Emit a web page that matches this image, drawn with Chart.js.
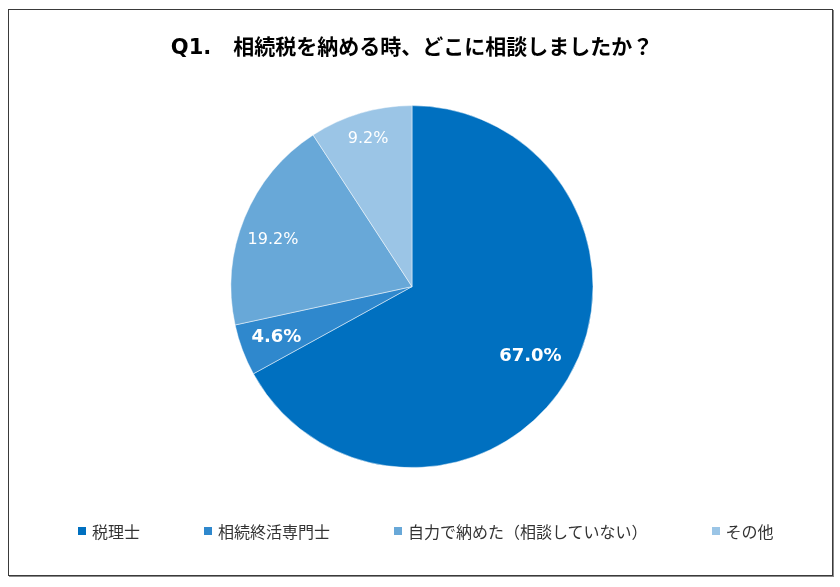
<!DOCTYPE html>
<html lang="ja">
<head>
<meta charset="utf-8">
<script src="https://cdn.jsdelivr.net/npm/chart.js@4.4.1/dist/chart.umd.min.js"></script>
<style>
  html, body { margin:0; padding:0; background:#fff; }
  body { width:840px; height:587px; position:relative; overflow:hidden; }
  .frame {
    position:absolute; left:8px; top:9px; width:825px; height:567px;
    box-sizing:border-box; border:1px solid #3a3a3a; box-shadow:1px 1px 0 #8a8a8a;
  }
  .frame canvas { position:absolute; left:0; top:0; }
  .legenda {
    position:absolute; left:78px; top:521px; height:20px;
    display:flex; align-items:center; gap:64px;
    font-family:"Noto Sans CJK JP", sans-serif; font-size:16px; color:#333;
  }
  .legenda-item { display:flex; align-items:center; white-space:nowrap; }
  .legenda-cor { width:8px; height:8px; margin-right:6px; display:inline-block; }
</style>
</head>
<body>
<div class="frame">
  <canvas id="grafico"></canvas>
</div>
<div class="legenda" id="legenda"></div>

<script>
// ─── DADOS ───────────────────────────────────────────────────────────────────
const titulo     = "Q1.   相続税を納める時、どこに相談しましたか？";
const categorias = ["税理士", "相続終活専門士", "自力で納めた（相談していない）", "その他"];
const valores    = [67.0, 4.6, 19.2, 9.2];
const cores      = ["#0070C0", "#2F88CD", "#68A8D8", "#9BC5E6"];

// rótulos dentro das fatias
const rotuloPlugin = {
  id: "rotulos",
  afterDatasetsDraw(chart, args, opts){
    const ctx  = chart.ctx;
    const meta = chart.getDatasetMeta(0);
    ctx.save();
    ctx.fillStyle = "#fff";
    ctx.textAlign = "center";
    ctx.textBaseline = "middle";
    meta.data.forEach((arc, i) => {
      const { x, y, startAngle, endAngle, outerRadius } = arc.getProps(["x","y","startAngle","endAngle","outerRadius"], true);
      const meio = (startAngle + endAngle) / 2 + opts.desvio[i] * Math.PI / 180;
      const r    = outerRadius * opts.raio[i];
      const negrito = opts.negrito[i];
      ctx.font = `${negrito ? "bold " : ""}${negrito ? 18 : 16}px "DejaVu Sans", sans-serif`;
      ctx.fillText(valores[i].toFixed(1) + "%", x + Math.cos(meio) * r, y + Math.sin(meio) * r);
    });
    ctx.restore();
  }
};

function renderLegenda(){
  const el = document.getElementById("legenda");
  el.innerHTML = categorias.map((c, i) => `
    <div class="legenda-item">
      <span class="legenda-cor" style="background:${cores[i]};"></span>
      <span>${c}</span>
    </div>`).join("");
}

function renderGrafico(){
  const canvas = document.getElementById("grafico");
  canvas.width = 823; canvas.height = 565;
  canvas.style.width = "823px"; canvas.style.height = "565px";
  const ctx = canvas.getContext("2d");

  new Chart(ctx, {
    type: "pie",
    data: {
      labels: categorias,
      datasets: [{ data: valores, backgroundColor: cores, borderColor: "rgba(255,255,255,0.6)", borderWidth: 0.8 }]
    },
    options: {
      responsive: false, animation: false,
      layout: { padding: { left: 0, right: 17, top: 0, bottom: 107 } },
      plugins: {
        legend:  { display: false },
        tooltip: { enabled: false },
        title: {
          display: true, text: titulo, color: "#000",
          font: { family: '"DejaVu Sans", "Noto Sans CJK JP", sans-serif', size: 21, weight: "bold" },
          padding: { top: 26, bottom: 44 }
        },
        rotulos: { raio: [0.76, 0.80, 0.81, 0.85], desvio: [0, 0, -3.8, 0], negrito: [true, true, false, false] }
      }
    },
    plugins: [rotuloPlugin]
  });
}

renderLegenda();
renderGrafico();
</script>
</body>
</html>
